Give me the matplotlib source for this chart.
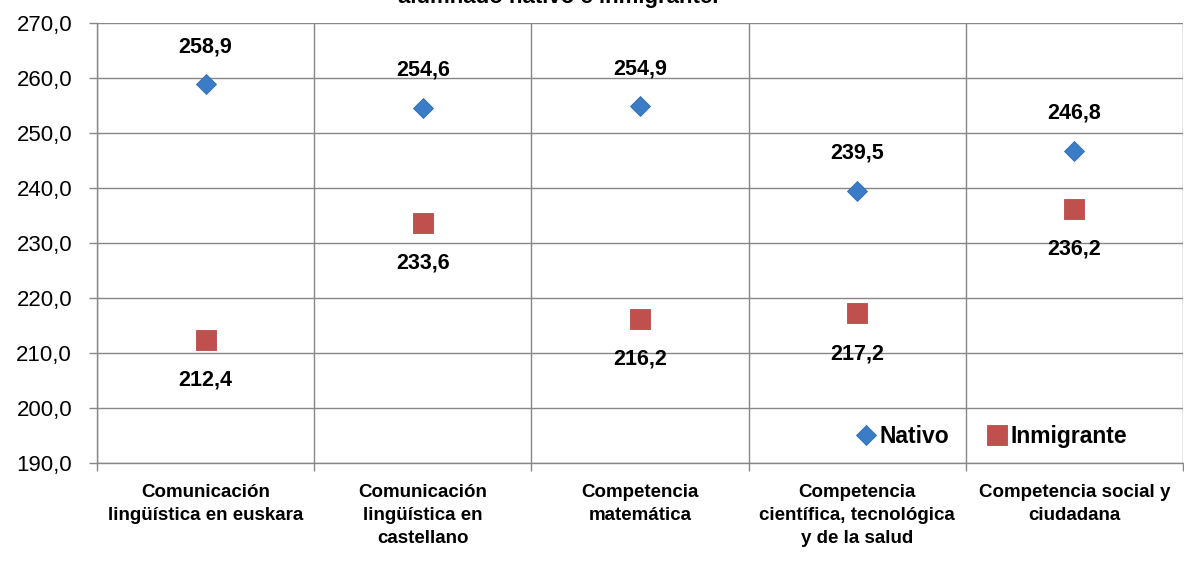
import numpy as np
import matplotlib.pyplot as plt

categories = ["Comunicación\nlingüística en euskara",
              "Comunicación\nlingüística en\ncastellano",
              "Competencia\nmatemática",
              "Competencia\ncientífica, tecnológica\ny de la salud",
              "Competencia social y\nciudadana"]
nativo = [258.9, 254.6, 254.9, 239.5, 246.8]
inmigrante = [212.4, 233.6, 216.2, 217.2, 236.2]
y_ticks = [190, 200, 210, 220, 230, 240, 250, 260, 270]

plt.rcParams['font.family'] = ['Liberation Sans', 'DejaVu Sans']

def fmt(v):
    return f"{v:.1f}".replace('.', ',')

fig = plt.figure(figsize=(11.84, 5.62), dpi=100)
ax = fig.add_axes([97 / 1184, 1 - 463 / 562, 1086 / 1184, 440 / 562])

x = np.arange(len(categories)) + 0.5
grid_col = '#878787'

ax.plot(x, nativo, 'D', color='#3a7cc6', markersize=10.5, markeredgecolor='#2f6db0',
        markeredgewidth=0.6, label='Nativo', zorder=3)
ax.plot(x, inmigrante, 's', color='#c0504d', markersize=14, markeredgecolor='#b84a47',
        markeredgewidth=0.6, label='Inmigrante', zorder=3)

for xi, v in zip(x, nativo):
    ax.annotate(fmt(v), (xi, v), xytext=(0, 27), textcoords='offset points',
                ha='center', va='center', fontsize=15.5, fontweight='bold')
for xi, v in zip(x, inmigrante):
    ax.annotate(fmt(v), (xi, v), xytext=(0, -29), textcoords='offset points',
                ha='center', va='center', fontsize=15.5, fontweight='bold')

ax.set_xlim(0, 5)
ax.set_ylim(190, 270)
ax.set_yticks(y_ticks)
ax.set_yticklabels([fmt(v) for v in y_ticks], fontsize=16)
ax.set_xticks(x)
ax.set_xticklabels(categories, fontsize=13.5, fontweight='bold', linespacing=1.45)
ax.set_xticks(np.arange(6), minor=True)

ax.grid(axis='y', which='major', color=grid_col, linewidth=1.0)
ax.grid(axis='x', which='minor', color=grid_col, linewidth=1.0)
ax.set_axisbelow(True)

ax.tick_params(axis='x', which='major', length=0, pad=15)
ax.tick_params(axis='x', which='minor', length=5.5, color=grid_col, width=1.0)
ax.tick_params(axis='y', length=6, color=grid_col, width=1.0, pad=12)

for s in ['top', 'right']:
    ax.spines[s].set_visible(False)
for s in ['left', 'bottom']:
    ax.spines[s].set_color(grid_col)
    ax.spines[s].set_linewidth(1.0)

leg = ax.legend(loc='center right', bbox_to_anchor=(0.949, 0.061), ncol=2, frameon=False,
                prop={'size': 16.5, 'weight': 'bold'}, handletextpad=0.1,
                columnspacing=1.6, handlelength=1.0, borderaxespad=0, borderpad=0)

fig.text(558 / 1184, 1 - 3 / 562, "alumnado nativo e inmigrante.", ha='center',
         va='baseline', fontsize=16, fontweight='bold')

fig.savefig('out.png', dpi=100)
